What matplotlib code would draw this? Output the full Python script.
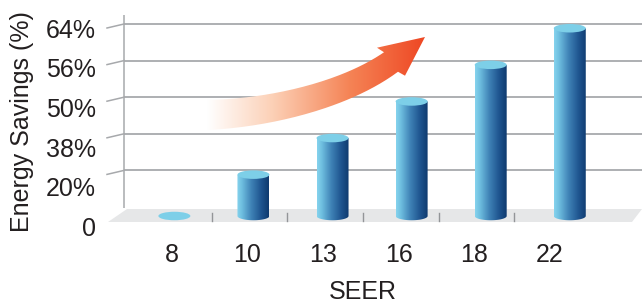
import numpy as np
import matplotlib
matplotlib.use('Agg')
import matplotlib.pyplot as plt
from matplotlib.patches import Ellipse, Polygon, PathPatch
from matplotlib.path import Path
from matplotlib.colors import LinearSegmentedColormap

plt.rcParams['font.family'] = ['Liberation Sans', 'DejaVu Sans']

# ---------------- data ----------------
seer_labels = ['8', '10', '13', '16', '18', '22']
savings_pct = [0, 20, 38, 50, 56, 64]
y_tick_values = [0, 20, 38, 50, 56, 64]
y_tick_labels = ['0', '20%', '38%', '50%', '56%', '64%']
x_title = 'SEER'
y_title = 'Energy Savings (%)'

# ---------------- layout ----------------
W, H = 642, 303
fig = plt.figure(figsize=(W / 100, H / 100), dpi=100)
ax = fig.add_axes([0, 0, 1, 1])
ax.axis('off')

X0, DX = 174.0, 75.6   # pixel x of first category, pixels per category
Y0, DY = 207.0, 36.6   # pixel y (from top) of level 0, pixels per level


def px_x(p):
    return (p - X0) / DX


def px_y(p):
    return (Y0 - p) / DY


FS = 18
TXT = '#231f20'
GRID = '#a7a9ac'

# ordinal y scale: each tick value sits on its own evenly spaced level
levels = [y_tick_values.index(v) for v in savings_pct]
n_lev = len(y_tick_values)

# floor
floor = Polygon([(px_x(127), px_y(209)), (px_x(642), px_y(209)),
                 (px_x(632), px_y(222)), (px_x(108), px_y(222))],
                closed=True, fc='#e6e7e8', ec='none', zorder=1)
ax.add_patch(floor)

# back wall axis + gridlines
ax.plot([px_x(124), px_x(124)], [px_y(208), px_y(15)], color=GRID, lw=1.1, zorder=2,
        solid_capstyle='butt')
for k in range(1, n_lev):
    ax.plot([px_x(124), px_x(642)], [k, k], color=GRID, lw=1.3, zorder=2,
            solid_capstyle='butt')
    ax.plot([px_x(107), px_x(124)], [k - 4 / DY, k], color=GRID, lw=1.1, zorder=2)

# floor separators between categories
for i in range(len(seer_labels) - 1):
    ax.plot([i + 0.5, i + 0.5], [px_y(213), px_y(221)], color='#939598', lw=1.0, zorder=2)

# y tick labels (perspective spacing)
for k, lab in enumerate(y_tick_labels):
    yc = 227 - 39.7 * k
    ax.text(px_x(96), px_y(yc + 9.2), lab, ha='right', va='baseline',
            fontsize=FS, color=TXT, zorder=6)

# x tick labels
for i, lab in enumerate(seer_labels):
    ax.text(i - 0.03, px_y(261.5), lab, ha='center', va='baseline',
            fontsize=FS, color=TXT, zorder=6)

ax.text((len(seer_labels) - 1) / 2, px_y(299), x_title, ha='center', va='baseline',
        fontsize=FS, color=TXT, zorder=6)
ax.text(px_x(22), px_y(122), y_title, rotation=90, ha='center', va='center',
        fontsize=FS, color=TXT, zorder=6)

# ---------------- arrow (decoration) ----------------
P = np.array([[207, 115], [270, 113], [345, 95], [391, 62]], dtype=float)
t = np.linspace(0, 1, 80)[:, None]
curve = ((1 - t) ** 3) * P[0] + 3 * ((1 - t) ** 2) * t * P[1] + 3 * (1 - t) * t ** 2 * P[2] + t ** 3 * P[3]
deriv = 3 * ((1 - t) ** 2) * (P[1] - P[0]) + 6 * (1 - t) * t * (P[2] - P[1]) + 3 * t ** 2 * (P[3] - P[2])
deriv /= np.linalg.norm(deriv, axis=1)[:, None]
normal = np.column_stack([deriv[:, 1], -deriv[:, 0]])
width = (30 - 6 * t[:, 0])[:, None]
top_edge = curve + normal * width / 2
bot_edge = curve - normal * width / 2
outline = np.vstack([top_edge, [[377, 47.7], [425, 37.0], [405, 75.7]], bot_edge[::-1]])
outline_d = np.column_stack([px_x(outline[:, 0]), px_y(outline[:, 1])])
arrow_patch = PathPatch(Path(outline_d), fc='none', ec='none', transform=ax.transData)
ax.add_patch(arrow_patch)
arrow_cmap = LinearSegmentedColormap.from_list(
    'arrow', [(0, '#ffffff'), (0.3, '#fcd0b6'), (0.65, '#f58456'), (1, '#ee4723')])
grad = np.linspace(0, 1, 256)[None, :]
im = ax.imshow(grad, extent=[px_x(207), px_x(426), px_y(135), px_y(35)], cmap=arrow_cmap,
               aspect='auto', interpolation='bilinear', zorder=3)
im.set_clip_path(arrow_patch)

# ---------------- cylinders ----------------
body_cmap = LinearSegmentedColormap.from_list(
    'body', [(0, '#86d4ee'), (0.15, '#6fbfe0'), (0.45, '#3f82b6'), (0.75, '#1f5590'), (1, '#0e3a6e')])
BW = 32 / DX          # bar width in category units
EH = 8.5 / DY         # ellipse height in level units
BASE = px_y(216)      # bottom ellipse centre
TOP_COLOR = '#7dcfe8'

for i, lev in enumerate(levels):
    xc = i * 1.046 + 0.005   # slight perspective spread of the bars
    top = lev - EH / 2 if lev > 0 else BASE
    if lev > 0:
        left, right = xc - BW / 2, xc + BW / 2
        th = np.linspace(np.pi, 2 * np.pi, 40)
        arc = np.column_stack([xc + BW / 2 * np.cos(th), BASE + EH / 2 * np.sin(th)])
        verts = np.vstack([[[left, top]], arc, [[right, top]], [[left, top]]])
        body = PathPatch(Path(verts), fc='none', ec='none', transform=ax.transData)
        ax.add_patch(body)
        bim = ax.imshow(grad, extent=[left, right, BASE - EH, top], cmap=body_cmap,
                        aspect='auto', interpolation='bilinear', zorder=4)
        bim.set_clip_path(body)
    ax.add_patch(Ellipse((xc, top), BW, EH, fc=TOP_COLOR, ec='none', zorder=5))

ax.set_xlim(px_x(0), px_x(W))
ax.set_ylim(px_y(H), px_y(0))

fig.savefig('out.png', dpi=100)
